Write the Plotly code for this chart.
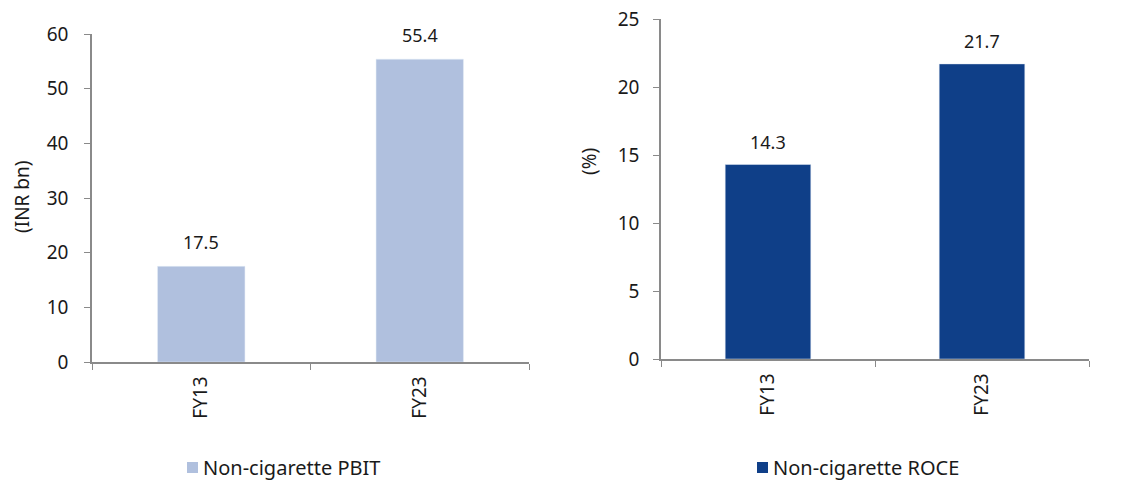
import plotly.graph_objects as go

categories = ["FY13", "FY23"]
pbit_values = [17.5, 55.4]
roce_values = [14.3, 21.7]
pbit_name = "Non-cigarette PBIT"
roce_name = "Non-cigarette ROCE"
left_ylabel = "(INR bn)"
right_ylabel = "(%)"

LIGHT = "#B0C0DE"
DARK = "#0F3F88"
AXIS = "#8a8a8a"
TXT = "#1a1a1a"
FONT = "Noto Sans"

W, H = 1145, 481

fig = go.Figure()
fig.add_trace(go.Bar(x=categories, y=pbit_values, name=pbit_name, marker_color=LIGHT,
                     width=0.4, xaxis="x", yaxis="y", showlegend=False))
fig.add_trace(go.Bar(x=categories, y=roce_values, name=roce_name, marker_color=DARK,
                     width=0.4, xaxis="x2", yaxis="y2", showlegend=False))

annotations = []
for c, v in zip(categories, pbit_values):
    annotations.append(dict(x=c, y=v, xref="x", yref="y", text=f"{v:.1f}", showarrow=False,
                            yanchor="middle", yshift=24, font=dict(size=18, color=TXT, family=FONT)))
for c, v in zip(categories, roce_values):
    annotations.append(dict(x=c, y=v, xref="x2", yref="y2", text=f"{v:.1f}", showarrow=False,
                            yanchor="middle", yshift=23, font=dict(size=18, color=TXT, family=FONT)))
annotations.append(dict(x=22 / W, y=1 - 197 / H, xref="paper", yref="paper", text=left_ylabel,
                        textangle=-90, showarrow=False, xanchor="center", yanchor="middle",
                        font=dict(size=19, color=TXT, family=FONT)))
annotations.append(dict(x=589 / W, y=1 - 162 / H, xref="paper", yref="paper", text=right_ylabel,
                        textangle=-90, showarrow=False, xanchor="center", yanchor="middle",
                        font=dict(size=19, color=TXT, family=FONT)))

# legend-style keys (square swatch + label)
shapes = []
for (sx, name, col) in [(187, pbit_name, LIGHT), (757, roce_name, DARK)]:
    shapes.append(dict(type="rect", xref="paper", yref="paper",
                       x0=sx / W, x1=(sx + 11) / W, y0=1 - 473 / H, y1=1 - 462 / H,
                       fillcolor=col, line=dict(width=0)))
    annotations.append(dict(x=(sx + 14) / W, y=1 - 467.5 / H, xref="paper", yref="paper", text=name,
                            showarrow=False, xanchor="left", yanchor="middle",
                            font=dict(size=20, color=TXT, family=FONT)))

xcommon = dict(type="category", showline=True, linecolor=AXIS, linewidth=1.5, ticks="outside",
               tickson="boundaries", ticklen=6, tickcolor=AXIS, tickangle=-90, automargin=False,
               ticklabelstandoff=5,
               tickfont=dict(size=19, color=TXT, family=FONT), showgrid=False, zeroline=False,
               fixedrange=True)
ycommon = dict(showline=True, linecolor=AXIS, linewidth=1.5, ticks="outside", ticklen=6,
               tickcolor=AXIS, tickfont=dict(size=19, color=TXT, family=FONT), showgrid=False,
               zeroline=False, fixedrange=True, automargin=False)

fig.update_layout(
    width=W, height=H,
    margin=dict(l=0, r=0, t=0, b=0, autoexpand=False),
    paper_bgcolor="white", plot_bgcolor="white",
    font=dict(family=FONT, color=TXT),
    bargap=0.6,
    xaxis=dict(domain=[92 / W, 529 / W], anchor="y", **xcommon),
    yaxis=dict(domain=[1 - 362 / H, 1 - 34 / H], anchor="x", range=[0, 60], dtick=10,
               ticklabelstandoff=12, **ycommon),
    xaxis2=dict(domain=[661 / W, 1089 / W], anchor="y2", **xcommon),
    yaxis2=dict(domain=[1 - 359 / H, 1 - 19 / H], anchor="x2", range=[0, 25], dtick=5,
                ticklabelstandoff=10, **ycommon),
    annotations=annotations,
    shapes=shapes,
    showlegend=False,
)

fig.write_html("out.html")
